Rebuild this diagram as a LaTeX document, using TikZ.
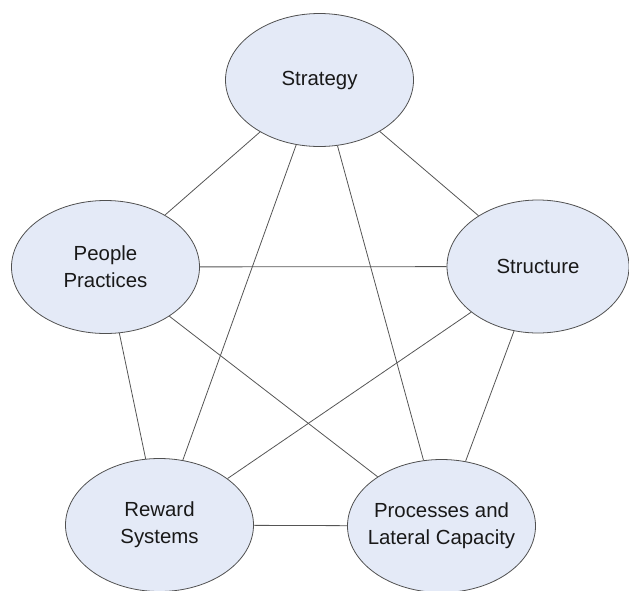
\documentclass[tikz,border=0pt]{standalone}
\usepackage{fontspec}
\setmainfont{Liberation Sans}
\usetikzlibrary{shapes.geometric}
\definecolor{bubblefill}{RGB}{228,234,247}
\definecolor{bubbleline}{RGB}{80,80,80}
\definecolor{linkline}{RGB}{85,85,85}
\definecolor{bubbletext}{RGB}{25,25,25}
\tikzset{
  bubble/.style={ellipse, draw=bubbleline, line width=0.8pt, fill=bubblefill,
    inner sep=0pt, minimum width=188pt, minimum height=133pt,
    label={[align=center, text=bubbletext, inner sep=0pt,
            font=\fontsize{20.4}{27}\selectfont]center:#1}},
  link/.style={draw=linkline, line width=0.8pt}
}
\begin{document}
\begin{tikzpicture}[x=1pt,y=-1pt]
  \useasboundingbox (0,0) rectangle (629,590);
  \node[bubble={Strategy}] (strategy) at (319.5,80) {};
  \node[bubble={People\\Practices}] (people) at (105.5,267) {};
  \node[bubble={Structure}, minimum width=182pt] (structure) at (538,266.5) {};
  \node[bubble={Reward\\Systems}] (reward) at (159.5,525) {};
  \node[bubble={Processes and\\Lateral Capacity}] (process) at (441.5,526) {};
  % outer ring
  \draw[link] (strategy) -- (people);
  \draw[link] (strategy) -- (structure);
  \draw[link] (people) -- (reward);
  \draw[link] (structure) -- (process);
  \draw[link] (reward) -- (process);
  % inner star
  \draw[link] (strategy) -- (reward);
  \draw[link] (strategy) -- (process);
  \draw[link] (people) -- (structure);
  \draw[link] (people) -- (process);
  \draw[link] (structure) -- (reward);
\end{tikzpicture}
\end{document}
